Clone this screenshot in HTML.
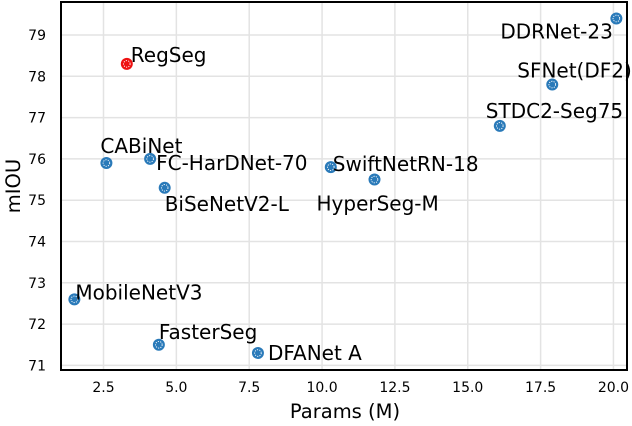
<!DOCTYPE html>
<html><head><meta charset="utf-8"><style>
html,body{margin:0;padding:0;background:#fff;}
svg{display:block;font-family:"DejaVu Sans","Liberation Sans",sans-serif;}
</style></head><body>
<svg id="chart" width="632" height="426" viewBox="0 0 632 426" xmlns="http://www.w3.org/2000/svg">
<g id="grid"></g>
<g id="ticks"></g>
<g id="points"></g>
<rect x="61" y="2" width="566" height="368" fill="none" stroke="#000" stroke-width="2"/>
<text x="345" y="418" font-size="19.5" text-anchor="middle">Params (M)</text>
<text transform="translate(20,186) rotate(-90)" font-size="19.5" text-anchor="middle">mIOU</text>
</svg>
<script>
const models = ["RegSeg","CABiNet","FC-HarDNet-70","BiSeNetV2-L","MobileNetV3","FasterSeg","DFANet A","SwiftNetRN-18","HyperSeg-M","STDC2-Seg75","SFNet(DF2)","DDRNet-23"];
const params = [3.3,2.6,4.1,4.6,1.5,4.4,7.8,10.3,11.8,16.1,17.9,20.1];
const miou = [78.3,75.9,76.0,75.3,72.6,71.5,71.3,75.8,75.5,76.8,77.8,79.4];
const xTicks = [2.5,5.0,7.5,10.0,12.5,15.0,17.5,20.0];
const yTicks = [71,72,73,74,75,76,77,78,79];

const labelDx = [4,-6,6,0,1,0,10,2,-58,-14,-35,-116];
const labelDy = [-2,-10,11,23,0,-6,7,4,31,-8,-7,20];

const L=61,R=627,T=2,B=370;
const x = v => 103.5 + (v-2.5)*29.14;
const y = v => 35 + (79-v)*41.3;
const NS="http://www.w3.org/2000/svg";
function mk(tag,attrs,parent){const e=document.createElementNS(NS,tag);for(const k in attrs)e.setAttribute(k,attrs[k]);parent.appendChild(e);return e;}
const grid=document.getElementById('grid'), ticks=document.getElementById('ticks'), pts=document.getElementById('points');
xTicks.forEach(t=>{
  const g=mk('line',{x1:x(t),x2:x(t),y1:T,y2:B,stroke:'#e3e3e3','stroke-width':1.5},grid);
  
  
  const tx=mk('text',{x:x(t),y:392,'font-size':14,'text-anchor':'middle'},ticks);
  tx.textContent=t.toFixed(1);
  
  
});
yTicks.forEach(t=>{
  const g=mk('line',{x1:L,x2:R,y1:y(t),y2:y(t),stroke:'#e3e3e3','stroke-width':1.5},grid);
  
  
  const tx=mk('text',{x:46,y:y(t)+5,'font-size':14,'text-anchor':'end'},ticks);
  tx.textContent=t;
  
  
});
models.forEach((m,i)=>{
  const cx=x(params[i]), cy=y(miou[i]);
  const col = i===0 ? '#ee1111' : '#2a7ab9';
  const c=mk('circle',{cx:cx,cy:cy,r:6,fill:col},pts);
  
  
  mk('circle',{cx:cx,cy:cy,r:3.3,fill:'none',stroke:'#fff','stroke-width':0.9,'stroke-dasharray':'1.2 1.2'},pts);
  const t=mk('text',{x:cx+labelDx[i],y:cy+labelDy[i],'font-size':20},pts);
  t.textContent=m;
  
  
});
</script>
</body></html>
